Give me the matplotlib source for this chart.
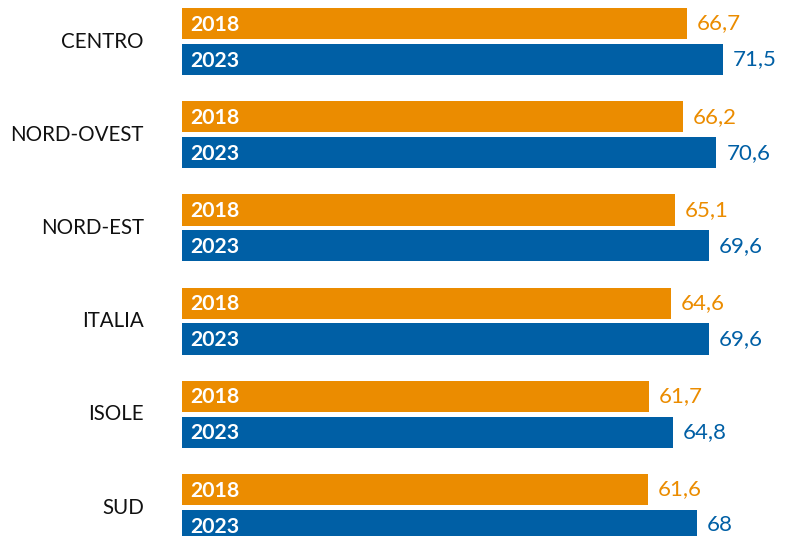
import matplotlib.pyplot as plt
import numpy as np

plt.rcParams['font.family'] = ['Lato', 'DejaVu Sans']

regions = ["CENTRO", "NORD-OVEST", "NORD-EST", "ITALIA", "ISOLE", "SUD"]
val_2018 = [66.7, 66.2, 65.1, 64.6, 61.7, 61.6]
val_2023 = [71.5, 70.6, 69.6, 69.6, 64.8, 68]
years = ["2018", "2023"]

c_2018 = '#EB8C00'
c_2023 = '#005FA5'

W, H = 787, 536
fig = plt.figure(figsize=(W / 100, H / 100), dpi=100)
x0 = 182  # pixel where the bars start
ax = fig.add_axes([x0 / W, 0, 1 - x0 / W, 1])
ax.axis('off')

px_per_unit = 7.57
ax.set_xlim(0, (W - x0) / px_per_unit)
step = 93.2
ax.set_ylim((H - 41.5) / step, -41.5 / step)

y = np.arange(len(regions))
off = 0.193
bh = 0.335

def fmt(v):
    return f"{v:g}".replace('.', ',')

for vals, yy, col, yr in [(val_2018, y - off, c_2018, years[0]),
                          (val_2023, y + off, c_2023, years[1])]:
    ax.barh(yy, vals, height=bh, color=col, edgecolor='none')
    for v, p in zip(vals, yy):
        ax.text(1.05, p + 0.012, yr, ha='left', va='center', color='white',
                fontsize=15.3, fontweight='bold')
        ax.text(v + 1.3, p, fmt(v), ha='left', va='center', color=col,
                fontsize=16)

for name, p in zip(regions, y):
    ax.text(-38 / px_per_unit, p, name, ha='right', va='center',
            color='#111111', fontsize=14.8)

fig.savefig('out.png', dpi=100, facecolor='white')
